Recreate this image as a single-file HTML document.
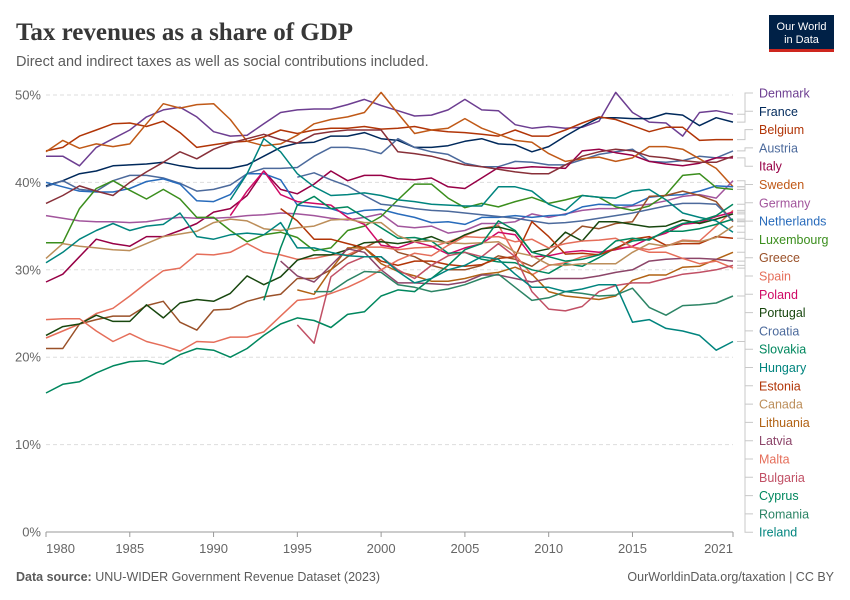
<!DOCTYPE html>
<html><head><meta charset="utf-8">
<style>
body{margin:0;background:#fff;font-family:"Liberation Sans",sans-serif;}
#wrap{position:relative;width:850px;height:600px;overflow:hidden;}
</style></head>
<body>
<div id="wrap">
<svg id="chart" width="850" height="600" xmlns="http://www.w3.org/2000/svg">
<text x="16" y="40" font-family="Liberation Serif,serif" font-size="25" font-weight="bold" fill="#373737">Tax revenues as a share of GDP</text>
<text x="16" y="66" font-size="14.5" fill="#5b5b5b">Direct and indirect taxes as well as social contributions included.</text>
<g>
<rect x="769" y="15" width="65" height="37" fill="#002147"/>
<rect x="769" y="49" width="65" height="3" fill="#ce261e"/>
<text x="801.5" y="30" font-size="11" fill="#fff" text-anchor="middle">Our World</text>
<text x="801.5" y="43" font-size="11" fill="#fff" text-anchor="middle">in Data</text>
</g>
<g id="grid"></g>
<g id="lines"></g>
<g id="labels"></g>
<text x="16" y="581" font-size="12.5" fill="#5b5b5b"><tspan font-weight="bold">Data source:</tspan> UNU-WIDER Government Revenue Dataset (2023)</text>
<text x="834" y="581" font-size="12.5" fill="#5b5b5b" text-anchor="end">OurWorldinData.org/taxation | CC BY</text>
</svg>
</div>
<script>
const yTicks=[0,10,20,30,40,50];
const xTicks=[1980,1985,1990,1995,2000,2005,2010,2015,2021];
const denmark=[43.0,43.0,41.9,44.0,45.0,46.0,47.5,48.3,48.6,47.5,45.8,45.3,45.4,46.7,48.0,48.3,48.4,48.4,48.9,49.5,48.8,48.2,47.6,47.7,48.3,49.5,48.3,48.2,46.6,46.2,46.4,46.2,46.3,47.0,50.3,48.0,46.9,46.8,45.3,48.0,48.2,47.8];
const france=[39.6,40.2,41.0,41.3,41.9,42.0,42.1,42.3,41.9,41.6,41.6,41.6,42.0,43.0,44.0,44.5,44.6,45.3,45.3,45.7,45.0,44.8,44.0,44.0,44.2,44.7,45.0,44.4,44.3,43.5,44.1,45.3,46.4,47.4,47.4,47.3,47.3,47.9,47.7,46.5,47.4,46.9];
const belgium=[43.6,44.0,45.3,46.0,46.7,46.8,46.4,47.0,45.7,44.0,44.3,44.6,44.7,45.2,46.0,45.6,46.0,46.2,46.2,46.4,46.1,46.2,46.4,46.0,45.8,45.7,45.5,45.3,46.0,45.3,45.3,46.0,46.8,47.5,47.2,46.5,45.8,46.3,46.3,44.8,44.9,44.9];
const austria=[39.5,40.2,39.2,39.0,40.2,40.8,40.8,40.5,39.9,39.0,39.2,39.7,41.0,41.6,41.6,41.7,43.0,44.0,44.0,43.8,43.3,45.0,44.0,43.5,43.2,42.2,41.8,41.8,42.4,42.3,42.0,42.0,42.6,43.2,43.5,43.8,42.4,42.3,42.5,43.0,42.8,43.6];
const italy=[28.6,29.5,31.5,33.5,33.0,32.7,33.8,33.8,34.5,35.3,36.6,37.0,38.5,41.3,39.2,38.7,39.8,41.3,40.2,40.8,40.8,40.4,40.3,40.5,39.5,39.3,40.5,41.7,41.6,41.8,41.7,41.6,43.6,43.8,43.4,43.1,42.4,42.1,41.9,42.2,42.8,42.8];
const sweden=[43.5,44.8,43.9,44.4,44.1,44.4,46.7,49.0,48.5,48.9,49.0,47.2,44.7,44.2,44.4,45.4,46.7,47.2,47.5,48.0,50.3,47.9,45.6,46.0,46.2,47.3,46.2,45.5,44.8,44.6,43.3,42.4,42.7,42.9,42.4,42.8,44.1,44.1,43.8,42.7,41.6,39.5];
const germany=[36.2,35.9,35.6,35.5,35.5,35.4,35.5,35.8,36.0,35.9,35.9,36.0,36.2,36.3,36.5,36.4,36.2,35.9,35.7,36.0,36.4,35.0,34.8,35.0,34.2,34.5,35.3,35.3,35.5,36.4,36.0,36.4,36.8,37.0,37.0,37.3,37.5,37.9,38.4,38.6,38.2,40.2];
const netherlands=[40.0,39.5,39.0,38.9,38.9,39.3,40.1,40.4,39.8,37.9,37.8,38.6,41.0,41.0,40.3,37.4,37.2,37.0,36.4,36.8,36.9,36.4,36.0,35.4,35.5,35.2,36.0,36.0,36.2,36.0,36.2,36.3,37.2,37.5,37.4,37.4,38.3,38.5,38.6,39.0,39.6,39.5];
const luxembourg=[33.1,33.1,37.0,39.3,40.2,39.1,38.1,39.2,38.1,36.0,36.0,34.5,33.2,34.0,34.3,33.7,32.2,32.5,34.5,35.0,36.1,38.0,39.8,39.8,38.2,37.1,37.6,37.2,37.8,38.3,37.6,38.0,38.5,38.3,37.2,36.8,37.3,38.6,40.8,41.0,39.4,39.2];
const greece=[21.0,21.0,23.8,24.3,24.7,24.7,25.9,26.4,24.0,23.1,25.4,25.5,26.4,26.9,27.2,29.0,29.0,30.0,31.5,32.5,33.5,32.0,31.5,30.5,30.0,30.0,30.5,31.6,31.2,30.4,31.8,33.5,35.0,34.7,35.3,35.5,38.4,38.5,39.0,38.5,37.8,35.5];
const spain=[22.2,23.0,23.8,25.0,25.6,27.0,28.5,29.9,30.2,31.8,31.7,32.0,33.0,32.0,31.7,31.2,31.3,31.7,31.7,32.6,32.6,32.3,32.5,32.6,33.2,33.9,34.7,35.1,31.7,29.4,30.5,30.8,31.5,31.8,32.5,32.6,32.3,32.7,33.4,33.3,35.0,36.8];
const poland=[36.2,39.0,41.3,38.6,37.8,37.6,37.4,36.0,35.2,32.8,32.5,33.2,32.7,31.8,32.5,33.0,34.3,34.0,31.5,31.6,32.0,32.2,32.0,32.3,32.7,33.6,34.2,35.2,35.4,36.1,36.6];
const portugal=[22.5,23.5,23.8,24.8,24.1,24.1,26.0,24.5,26.2,26.6,26.4,27.3,29.3,28.3,29.2,31.1,31.7,31.7,32.3,33.1,33.2,33.0,33.3,33.8,33.0,34.0,34.7,34.9,34.4,32.0,32.4,34.3,33.3,35.5,35.5,35.2,34.9,35.0,35.7,35.3,35.8,36.4];
const croatia=[40.6,41.1,40.3,39.6,38.5,37.5,37.3,37.0,36.8,36.7,36.5,36.3,36.1,35.9,35.6,35.3,35.4,35.6,35.9,36.2,36.5,36.9,37.3,37.6,37.6,37.5,35.6];
const slovakia=[26.5,32.5,37.4,38.4,37.0,37.2,36.0,34.8,33.6,33.7,33.3,31.9,32.0,31.2,30.9,30.8,30.0,29.6,30.7,30.4,31.4,32.5,33.3,33.5,34.4,34.4,34.7,35.2,35.8];
const hungary=[38.0,41.0,45.0,43.5,41.0,39.5,38.5,38.6,38.8,38.5,38.0,37.8,37.5,37.4,37.3,37.3,39.5,39.5,39.0,37.5,36.8,38.5,38.3,38.2,39.0,39.2,38.0,36.5,36.0,35.6,34.3];
const estonia=[37.0,35.6,33.5,33.5,33.0,32.5,31.0,30.5,31.0,31.0,30.6,30.4,30.6,31.3,31.5,35.5,33.8,31.8,31.9,31.7,32.4,33.5,33.8,32.8,33.0,33.0,33.8,33.6];
const canada=[31.3,33.0,32.7,32.5,32.3,32.2,33.0,33.8,34.1,34.4,35.4,35.8,35.6,34.7,34.5,34.8,35.0,35.7,35.8,35.4,35.4,33.9,33.2,33.3,33.1,33.0,33.1,33.2,32.0,31.6,30.6,30.5,30.7,30.7,30.7,32.0,33.0,32.7,33.3,33.2,33.7,35.0];
const lithuania=[27.7,27.2,30.0,32.5,32.5,30.7,29.8,29.3,28.7,28.7,29.0,29.5,29.7,30.3,29.5,27.5,27.0,26.8,26.6,27.0,28.8,29.4,29.4,30.3,30.4,31.2,32.0];
const latvia=[31.0,29.3,28.6,30.5,32.4,32.0,30.0,28.5,28.5,28.4,28.3,28.6,29.4,29.4,29.0,28.6,29.0,29.0,29.0,29.3,29.7,30.0,31.0,31.2,31.3,31.3,31.2,31.0];
const malta=[24.3,24.4,24.4,23.0,21.8,22.7,21.8,21.3,20.7,21.8,21.7,22.3,22.3,22.9,24.7,26.5,26.7,27.3,28.0,28.9,30.0,31.1,31.9,31.6,32.8,33.8,33.7,33.8,33.2,33.5,32.5,33.0,33.3,33.4,33.6,32.6,32.0,32.0,31.3,30.7,31.0,30.2];
const bulgaria=[23.7,21.6,29.2,30.7,31.5,31.5,30.0,29.0,30.5,31.6,32.0,31.5,33.0,31.5,27.5,25.5,25.3,25.8,27.5,28.2,28.5,28.5,29.0,29.5,29.7,30.0,30.5];
const cyprus=[15.9,16.9,17.2,18.2,19.0,19.5,19.6,19.2,20.3,21.0,20.8,20.0,21.0,22.5,23.8,24.5,24.2,23.4,24.9,25.2,27.0,27.7,27.5,29.0,30.5,32.3,33.0,35.6,34.5,32.0,31.5,31.0,31.2,31.7,33.3,33.6,33.4,34.5,35.3,35.6,36.2,37.5];
const romania=[27.5,27.5,28.8,29.8,29.7,28.3,28.0,27.5,27.8,28.3,29.0,29.5,28.0,26.5,26.8,27.5,27.3,27.0,27.1,27.9,25.7,24.8,25.9,26.0,26.2,27.0];
const ireland=[30.8,32.0,33.5,34.5,35.3,34.5,35.0,35.2,36.5,33.8,33.5,34.0,34.2,34.0,35.4,32.5,32.5,32.0,31.6,31.5,31.5,29.8,28.5,29.0,30.0,30.5,31.5,31.2,29.5,28.0,28.0,27.5,27.8,28.3,28.3,24.0,24.3,23.3,23.0,22.5,20.8,21.8];
const finland=[37.6,38.5,39.6,39.0,38.5,40.0,41.2,42.3,43.5,42.7,43.8,44.5,45.0,45.5,44.9,44.5,45.5,45.8,46.0,46.0,46.0,43.5,43.3,43.0,42.5,42.0,41.8,41.5,41.2,41.0,41.0,42.0,43.0,43.5,43.8,43.6,43.0,42.8,42.5,42.3,42.3,43.0];

const names=["Denmark","France","Belgium","Austria","Italy","Sweden","Germany","Netherlands","Luxembourg","Greece","Spain","Poland","Portugal","Croatia","Slovakia","Hungary","Estonia","Canada","Lithuania","Latvia","Malta","Bulgaria","Cyprus","Romania","Ireland"];
const series=[denmark,france,belgium,austria,italy,sweden,germany,netherlands,luxembourg,greece,spain,poland,portugal,croatia,slovakia,hungary,estonia,canada,lithuania,latvia,malta,bulgaria,cyprus,romania,ireland];
const startYears=[1980,1980,1980,1980,1980,1980,1980,1980,1980,1980,1980,1991,1980,1995,1993,1991,1994,1980,1995,1994,1980,1995,1980,1996,1980];
const colors=["#6d3e91","#00295b","#b13507","#4c6a9c","#970046","#c05917","#a2559c","#286bbb","#3b8e1d","#9a5129","#e56e5a","#cf0a66","#18470f","#4c6a9c","#00875e","#00847e","#b13507","#bc8e5a","#b16214","#8c4569","#e56e5a","#c15065","#00875e","#2c8465","#00847e"];

const NS="http://www.w3.org/2000/svg";
const X0=46,X1=733,Y0=532,Y1=95;
function xs(yr){return X0+(yr-1980)*(X1-X0)/(2021-1980);}
function ys(v){return Y0-(v/50)*(Y0-Y1);}
function mk(tag,attrs,parent){const e=document.createElementNS(NS,tag);for(const k in attrs)e.setAttribute(k,attrs[k]);parent.appendChild(e);return e;}

const grid=document.getElementById('grid');
yTicks.forEach(t=>{
  const l=mk('line',{x1:X0,x2:X1,y1:ys(t),y2:ys(t),stroke:t===0?'#999':'#ddd','stroke-dasharray':t===0?'':'4,3'},grid);
  
  
  const tx=mk('text',{x:41,y:ys(t)+4.5,'font-size':13,fill:'#666','text-anchor':'end'},grid);
  tx.textContent=t+'%';
  
  
});
xTicks.forEach((yr,i)=>{
  const anchor=i===0?'start':(i===xTicks.length-1?'end':'middle');
  const tx=mk('text',{x:xs(yr),y:553,'font-size':13,fill:'#666','text-anchor':anchor},grid);
  tx.textContent=yr;
  
  
  const tk=mk('line',{x1:xs(yr),x2:xs(yr),y1:Y0,y2:Y0+5,stroke:'#999'},grid);
  
  
});

const lines=document.getElementById('lines');
const labels=document.getElementById('labels');
series.forEach((vals,i)=>{
  const s=startYears[i];
  const pts=vals.map((v,j)=>xs(s+j).toFixed(1)+','+ys(v).toFixed(1)).join(' ');
  const pl=mk('polyline',{points:pts,fill:'none',stroke:colors[i],'stroke-width':1.5,'stroke-linejoin':'round'},lines);
  
  
  const endY=ys(vals[vals.length-1]);
  const ly=93+i*18.3;
  const c=mk('polyline',{points:`737,${endY.toFixed(1)} 745,${endY.toFixed(1)} 745,${ly} 753,${ly}`,fill:'none',stroke:'#c8c8c8','stroke-width':1},labels);
  
  
  const t=mk('text',{x:759,y:ly+4.5,'font-size':12.5,fill:colors[i]},labels);
  t.textContent=names[i];
  
  
});
// unlabeled extra series
(function(){
  const pts=finland.map((v,j)=>xs(1980+j).toFixed(1)+','+ys(v).toFixed(1)).join(' ');
  const pl=mk('polyline',{points:pts,fill:'none',stroke:'#883039','stroke-width':1.5,'stroke-linejoin':'round'},lines);
  
  
})();
</script>
</body></html>
